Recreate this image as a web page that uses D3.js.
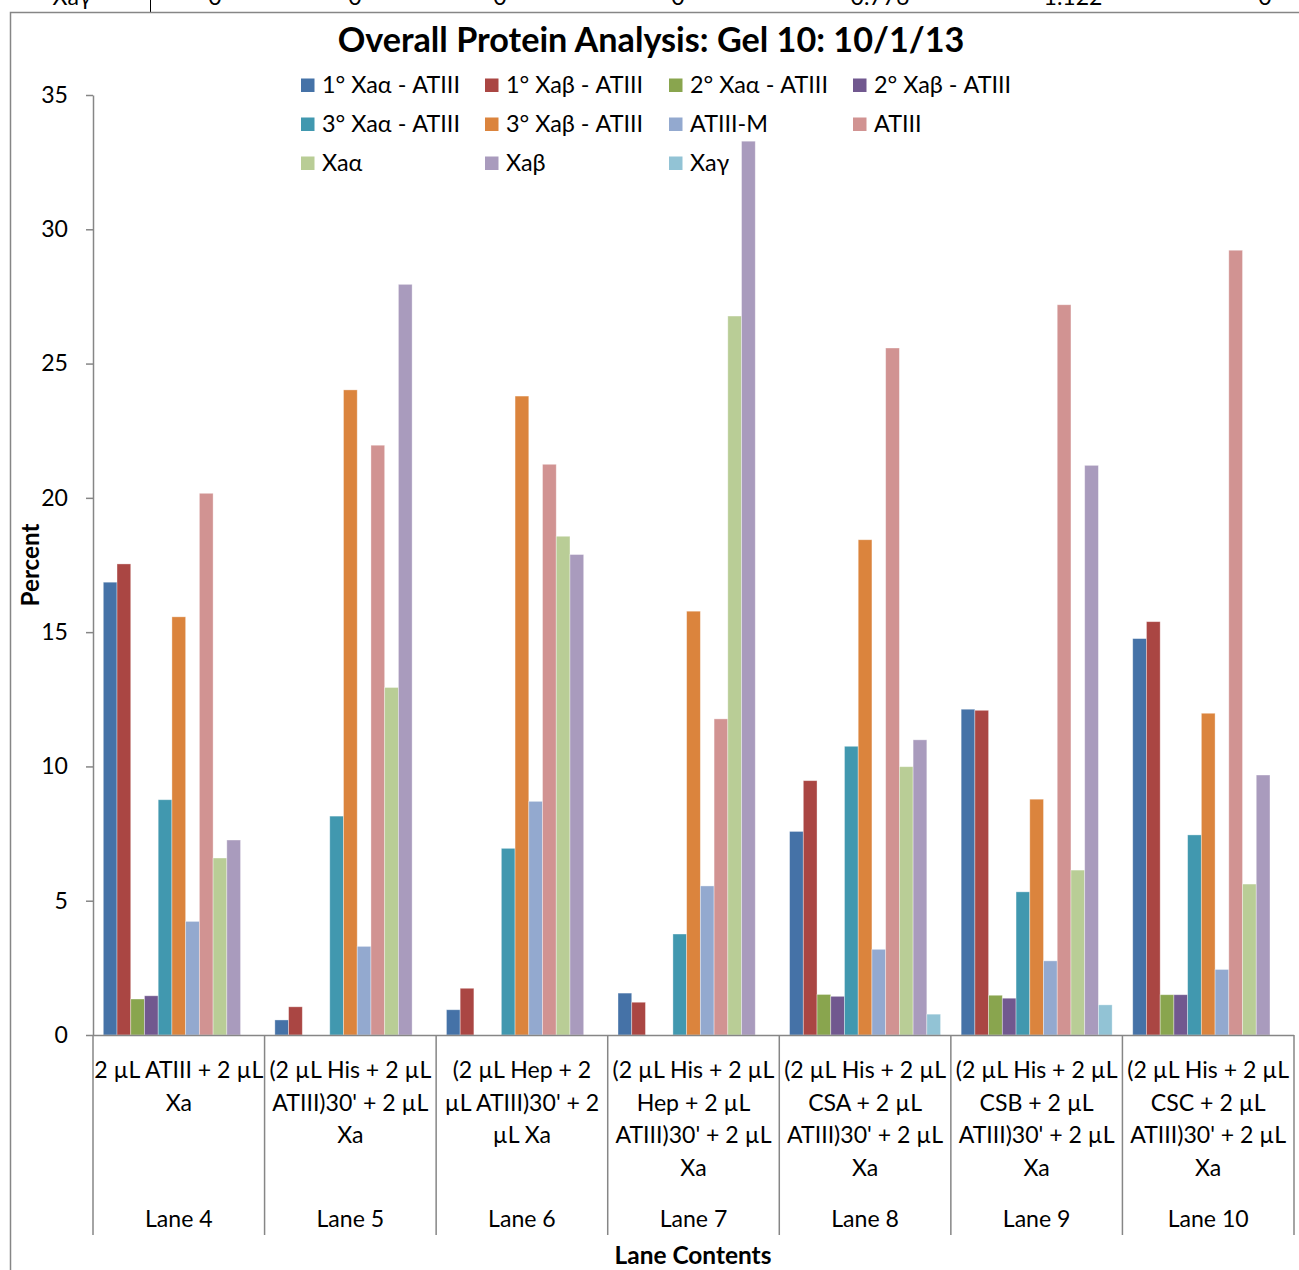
<!DOCTYPE html>
<html><head><meta charset="utf-8">
<script src="https://cdn.jsdelivr.net/npm/d3@7"></script>
<style>
body{margin:0;background:#fff}
svg{display:block}
text{font-family:Lato, "Open Sans", sans-serif; fill:#000}
</style>
</head><body>
<svg id="c" width="1299" height="1270"></svg>
<script>
// ---------- data ----------
const lanes = ["Lane 4","Lane 5","Lane 6","Lane 7","Lane 8","Lane 9","Lane 10"];
const laneContents = [
  ["2 µL ATIII + 2 µL","Xa"],
  ["(2 µL His + 2 µL","ATIII)30' + 2 µL","Xa"],
  ["(2 µL Hep + 2","µL ATIII)30' + 2","µL Xa"],
  ["(2 µL His + 2 µL","Hep + 2 µL","ATIII)30' + 2 µL","Xa"],
  ["(2 µL His + 2 µL","CSA + 2 µL","ATIII)30' + 2 µL","Xa"],
  ["(2 µL His + 2 µL","CSB + 2 µL","ATIII)30' + 2 µL","Xa"],
  ["(2 µL His + 2 µL","CSC + 2 µL","ATIII)30' + 2 µL","Xa"]
];
const seriesNames = ["1° Xaα - ATIII","1° Xaβ - ATIII","2° Xaα - ATIII","2° Xaβ - ATIII",
  "3° Xaα - ATIII","3° Xaβ - ATIII","ATIII-M","ATIII","Xaα","Xaβ","Xaγ"];
const seriesColors = ["#4572A7","#AA4643","#89A54E","#71588F","#4198AF","#DB843D",
  "#93A9CF","#D19392","#B9CD96","#A99BBD","#92C3D5"];
const v1XaaATIII = [16.86, 0.56, 0.94, 1.56, 7.58, 12.13, 14.76];
const v1XabATIII = [17.54, 1.05, 1.74, 1.22, 9.47, 12.09, 15.39];
const v2XaaATIII = [1.34, 0, 0, 0, 1.51, 1.48, 1.50];
const v2XabATIII = [1.46, 0, 0, 0, 1.44, 1.37, 1.50];
const v3XaaATIII = [8.76, 8.15, 6.95, 3.76, 10.75, 5.33, 7.45];
const v3XabATIII = [15.57, 24.02, 23.79, 15.78, 18.44, 8.78, 11.98];
const vATIIIM = [4.23, 3.30, 8.70, 5.55, 3.19, 2.76, 2.44];
const vATIII = [20.17, 21.96, 21.25, 11.77, 25.58, 27.19, 29.22];
const vXaa = [6.59, 12.94, 18.57, 26.77, 9.99, 6.14, 5.62];
const vXab = [7.26, 27.95, 17.89, 33.28, 10.99, 21.21, 9.68];
const vXag = [0, 0, 0, 0, 0.776, 1.122, 0];
const yTicks = [0, 5, 10, 15, 20, 25, 30, 35];
const title = "Overall Protein Analysis: Gel 10: 10/1/13";
const yTitle = "Percent";
const xTitle = "Lane Contents";

const seriesValues = [v1XaaATIII, v1XabATIII, v2XaaATIII, v2XabATIII, v3XaaATIII,
  v3XabATIII, vATIIIM, vATIII, vXaa, vXab, vXag];

// ---------- layout ----------
const svg = d3.select("#c");
const L = 93, R = 1294, Y0 = 1035, YT = 95;
const grey = "#868686";

function fit(sel, target){
  const w = sel.node().getComputedTextLength();
  const fs = parseFloat(sel.attr("font-size"));
  return fs * target / w;
}

// top cut-off table row (spreadsheet above the chart)
const tableCols = [215, 355, 500, 678, 880, 1073, 1265];
const probe = svg.append("text").attr("font-size", 22).text("2 µL ATIII + 2 µL");
const baseFs = fit(probe, 169);
probe.remove();

svg.append("text").attr("x", 72).attr("y", 5).attr("text-anchor","middle")
  .attr("font-size", baseFs).text("Xaγ");
svg.append("line").attr("x1",150.5).attr("x2",150.5).attr("y1",0).attr("y2",12)
  .attr("stroke","#000").attr("stroke-width",1);
svg.selectAll("text.tbl").data(vXag).join("text").attr("class","tbl")
  .attr("x",(d,i)=>tableCols[i]).attr("y",5).attr("text-anchor","middle")
  .attr("font-size", baseFs).text(d => d === 0 ? "0" : d3.format(".3f")(d));

// chart area border
svg.append("rect").attr("x",10.5).attr("y",12.5).attr("width",1400).attr("height",1400)
  .attr("fill","#fff").attr("stroke",grey).attr("stroke-width",1.5);

// scales
const x0 = d3.scaleBand().domain(lanes).range([L, R]).padding(0);
const bw = x0.bandwidth();
const gap = bw * 1.5 / 12.5;
const x1 = d3.scaleBand().domain(seriesNames).range([gap/2, bw - gap/2]).padding(0);
const y = d3.scaleLinear().domain([0, 35]).range([Y0, YT]);

// bars
const table = [];
seriesNames.forEach((s, si) => lanes.forEach((l, li) =>
  table.push({series: s, lane: l, value: seriesValues[si][li], color: seriesColors[si]})));
svg.append("g").selectAll("rect").data(table.filter(d => d.value > 0)).join("rect")
  .attr("x", d => x0(d.lane) + x1(d.series))
  .attr("y", d => y(d.value))
  .attr("width", x1.bandwidth())
  .attr("height", d => y(0) - y(d.value))
  .attr("fill", d => d.color)
  .attr("stroke", "#fff").attr("stroke-opacity", 0.45).attr("stroke-width", 0.8);

// y axis
const ya = svg.append("g").attr("transform", `translate(${L},0)`)
  .call(d3.axisLeft(y).tickValues(yTicks).tickSize(7).tickPadding(18).tickSizeOuter(0));
ya.select(".domain").attr("stroke", grey).attr("stroke-width", 1.5);
ya.selectAll(".tick line").attr("stroke", grey).attr("stroke-width", 1.5);
ya.selectAll(".tick text").attr("font-size", baseFs).attr("font-family","Lato, sans-serif").attr("fill","#000");

// x axis line & separators
svg.append("line").attr("x1", L).attr("x2", R).attr("y1", Y0 + 0.5).attr("y2", Y0 + 0.5)
  .attr("stroke", grey).attr("stroke-width", 1.5);
const bounds = lanes.map(l => x0(l)).concat([R]);
svg.selectAll("line.sep").data(bounds).join("line").attr("class","sep")
  .attr("x1", d => d).attr("x2", d => d).attr("y1", Y0).attr("y2", 1235)
  .attr("stroke", grey).attr("stroke-width", 1.5);

// category labels
lanes.forEach((l, i) => {
  const cx = x0(l) + bw/2;
  laneContents[i].forEach((line, j) => {
    svg.append("text").attr("x", cx).attr("y", 1078 + j*32.5).attr("text-anchor","middle")
      .attr("font-size", baseFs).text(line);
  });
  svg.append("text").attr("x", cx).attr("y", 1227).attr("text-anchor","middle")
    .attr("font-size", baseFs).text(l);
});

// title
const t = svg.append("text").attr("x", 651).attr("y", 52).attr("text-anchor","middle")
  .attr("font-weight","bold").attr("font-size", 30).text(title);
t.attr("font-size", fit(t, 627));

// axis titles
const yt = svg.append("text").attr("transform","translate(39,565) rotate(-90)")
  .attr("text-anchor","middle").attr("font-weight","bold").attr("font-size",20).text(yTitle);
yt.attr("font-size", fit(yt, 83));
const xt = svg.append("text").attr("x", 693).attr("y", 1264).attr("text-anchor","middle")
  .attr("font-weight","bold").attr("font-size",20).text(xTitle);
xt.attr("font-size", fit(xt, 157));

// legend
const legCols = [301, 485, 669, 853];
const legRows = [85, 124, 163];
const lg = svg.append("g");
let legFs = null;
seriesNames.forEach((s, i) => {
  const cx = legCols[i % 4], cy = legRows[Math.floor(i / 4)];
  lg.append("rect").attr("x", cx).attr("y", cy - 6.5).attr("width", 13.5).attr("height", 13.5)
    .attr("fill", seriesColors[i]);
  const tx = lg.append("text").attr("x", cx + 21).attr("y", cy).attr("dy","0.36em")
    .attr("font-size", 22).text(s);
  if (i === 0) legFs = fit(tx, 138);
});
lg.selectAll("text").attr("font-size", legFs);
</script>
</body></html>
